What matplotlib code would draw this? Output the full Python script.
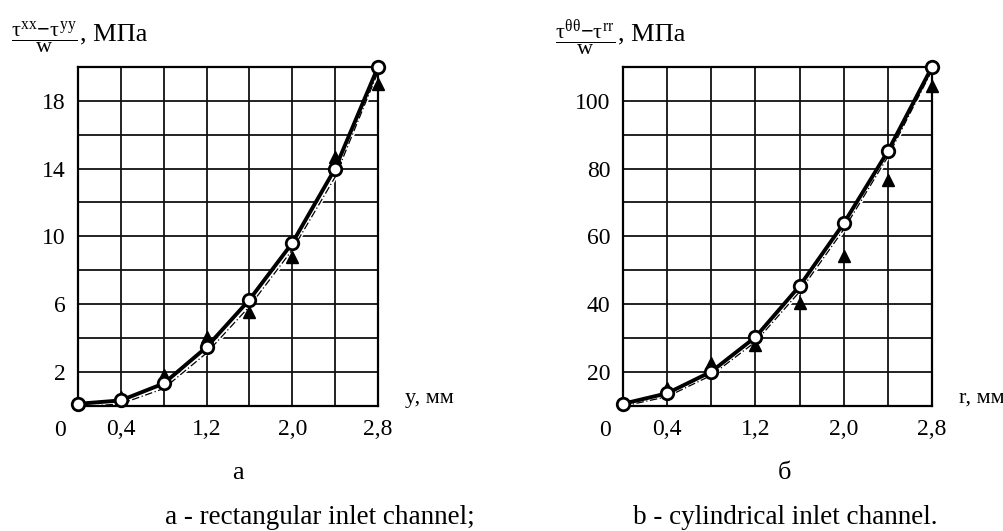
import matplotlib
matplotlib.use("Agg")
import matplotlib.pyplot as plt

plt.rcParams['font.family'] = ['Liberation Serif', 'DejaVu Serif']
plt.rcParams['mathtext.fontset'] = 'custom'
plt.rcParams['mathtext.rm'] = 'Liberation Serif'
plt.rcParams['mathtext.it'] = 'Liberation Serif'
plt.rcParams['mathtext.bf'] = 'Liberation Serif:bold'

# ---- data ----
x_pts = [0.0, 0.4, 0.8, 1.2, 1.6, 2.0, 2.4, 2.8]
x_tri = [0.4, 0.8, 1.2, 1.6, 2.0, 2.4, 2.8]

# panel a (rectangular channel)
a_calc = [0.1, 0.3, 1.3, 3.45, 6.25, 9.6, 14.0, 20.0]
a_calc2 = [-0.1, 0.1, 1.0, 3.1, 5.85, 9.2, 13.5, 19.7]
a_exp = [0.5, 1.8, 4.05, 5.55, 8.8, 14.7, 19.0]

# panel b (cylindrical channel)
b_calc = [10.5, 13.6, 20.0, 30.2, 45.3, 63.8, 85.1, 110.0]
b_calc2 = [9.8, 12.6, 18.9, 28.8, 43.6, 62.0, 83.5, 109.0]
b_exp = [15.3, 22.7, 27.9, 40.2, 54.2, 76.6, 104.5]

xtick_vals = [0.4, 1.2, 2.0, 2.8]
xtick_lbls = ['0,4', '1,2', '2,0', '2,8']
a_yticks = [2, 6, 10, 14, 18]
b_yticks = [20, 40, 60, 80, 100]

W, H = 1004, 531
fig = plt.figure(figsize=(W / 100, H / 100), dpi=100)


def make_ax(left, right, ymin, ymax, ystep, yticks, xunit):
    ax = fig.add_axes([left / W, (H - 405.5) / H, (right - left) / W, 338.5 / H])
    ax.set_xlim(0, 2.8)
    ax.set_ylim(ymin, ymax)
    # grid
    gx = [0.4 * i for i in range(1, 7)]
    for g in gx:
        ax.axvline(g, color='#111111', lw=1.3, zorder=1)
    y = ymin + ystep
    while y < ymax - 1e-9:
        ax.axhline(y, color='#111111', lw=1.3, zorder=1)
        y += ystep
    for s in ax.spines.values():
        s.set_linewidth(1.6)
        s.set_color('black')
    ax.set_xticks(xtick_vals)
    ax.set_xticklabels(xtick_lbls)
    ax.set_yticks(yticks)
    ax.set_yticklabels([str(v) for v in yticks])
    ax.tick_params(length=0, labelsize=17, pad=10)
    ax.tick_params(axis='y', pad=9)
    ax.annotate('0', xy=(0, 0), xycoords='axes fraction', xytext=(-18, -25),
                textcoords='offset pixels', ha='center', va='center', fontsize=17)
    ax.annotate(xunit, xy=(1, 0), xycoords='axes fraction', xytext=(27, 7),
                textcoords='offset pixels', ha='left', va='center', fontsize=16)
    return ax


def draw(ax, calc, calc2, exp):
    ax.plot(x_pts, calc2, color='white', lw=3.0, zorder=2, solid_capstyle='round')
    ax.plot(x_pts, calc, color='black', lw=2.8, zorder=3)
    ax.plot(x_pts, calc2, color='black', lw=0.9, ls=(0, (6, 2, 1, 2)), zorder=4)
    ax.plot(x_tri, exp, ls='none', marker='^', ms=8, color='black', zorder=5, clip_on=False)
    ax.plot(x_pts, calc, ls='none', marker='o', ms=9, mfc='white', mec='black', mew=2.0,
            zorder=6, clip_on=False)


ax1 = make_ax(78, 378, 0, 20, 2, a_yticks, 'y, мм')
draw(ax1, a_calc, a_calc2, a_exp)
ax2 = make_ax(623, 932, 10, 110, 10, b_yticks, 'r, мм')
draw(ax2, b_calc, b_calc2, b_exp)


def ylabel(ax, x, frac):
    t = fig.text(x / W, 1 - 38 / H, frac, fontsize=16, ha='left', va='center')
    ax.annotate(', МПа', xy=(1, 0.5), xycoords=t, xytext=(3, 4), textcoords='offset pixels',
                ha='left', va='center', fontsize=19, annotation_clip=False)


ylabel(ax1, 11, r'$\dfrac{\tau^{xx}\mathbf{-}\tau^{yy}}{\mathrm{w}}$')
ylabel(ax2, 555, r'$\dfrac{\tau^{\theta\theta}\mathbf{-}\tau^{rr}}{\mathrm{w}}$')

# panel letters and captions
fig.text(238 / W, 1 - 473 / H, 'а', fontsize=19, ha='center', va='center')
fig.text(785 / W, 1 - 473 / H, 'б', fontsize=19, ha='center', va='center')
fig.text(320 / W, 1 - 517 / H, 'a - rectangular inlet channel;', fontsize=19.5, ha='center', va='center')
fig.text(785 / W, 1 - 517 / H, 'b - cylindrical inlet channel.', fontsize=19.5, ha='center', va='center')

fig.savefig('out.png', dpi=100)
